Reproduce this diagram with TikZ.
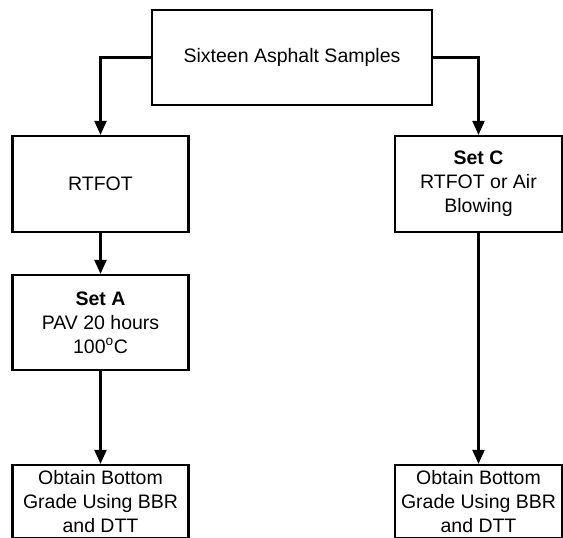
\documentclass[tikz,border=0pt]{standalone}
\usepackage{fontspec}
\setmainfont{Liberation Sans}
\usetikzlibrary{positioning, arrows.meta}

\begin{document}
\begin{tikzpicture}[
  x=1pt, y=-1pt, line width=2.2pt,
  font=\fontsize{19.5}{24}\selectfont,
  >={Triangle[length=14pt, width=12pt]},
  stage/.style={draw=black, line width=2.2pt, align=center, inner sep=2pt},
  flow/.style={->, draw=black, line width=2.2pt},
]
\useasboundingbox (0,0) rectangle (563,538);

% ---- Samples -----------------------------------------------------------
\node[stage, minimum width=280pt, minimum height=95pt] (samples) at (292,57.5)
  {Sixteen Asphalt Samples};

% ---- Ageing ------------------------------------------------------------
\node[stage, minimum width=176pt, minimum height=96pt] (rtfot) at (100.5,184)
  {RTFOT};
\node[stage, minimum width=167pt, minimum height=96pt] (setc) at (478.5,184)
  {\textbf{Set C}\\RTFOT or Air\\Blowing};
\node[stage, minimum width=176pt, minimum height=95pt] (seta) at (100.5,322.5)
  {\textbf{Set A}\\PAV 20 hours\\100\textsuperscript{o}C};

% ---- Grading -----------------------------------------------------------
\node[stage, minimum width=176pt, minimum height=73pt] (gradea) at (100.5,501.5)
  {Obtain Bottom\\Grade Using BBR\\and DTT};
\node[stage, minimum width=167pt, minimum height=73pt] (gradec) at (478.5,501.5)
  {Obtain Bottom\\Grade Using BBR\\and DTT};

% ---- Connectors --------------------------------------------------------
\draw[flow] (samples.west) -| (rtfot.north);
\draw[flow] (samples.east) -| (setc.north);
\draw[flow] (rtfot) -- (seta);
\draw[flow] (seta) -- (gradea);
\draw[flow] (setc) -- (gradec);

\end{tikzpicture}
\end{document}
